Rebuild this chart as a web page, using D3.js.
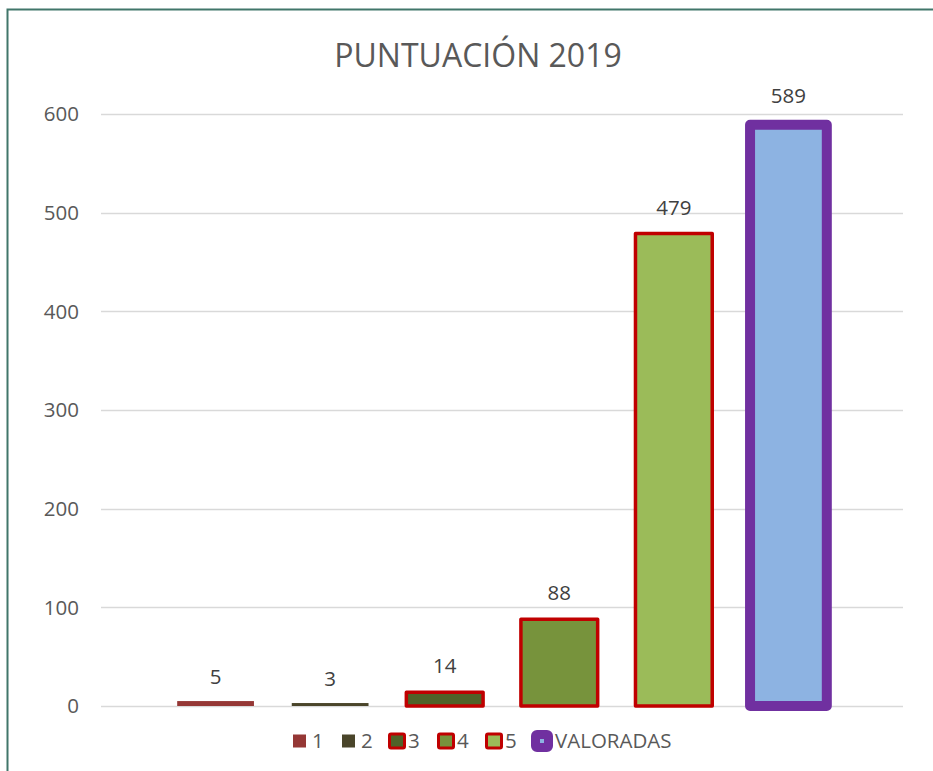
<!DOCTYPE html>
<meta charset="utf-8">
<style>
body { margin: 0; background: #fff; }
svg text { font-family: "Open Sans", "Noto Sans", sans-serif; }
</style>
<div id="chart"></div>
<script src="https://d3js.org/d3.v7.min.js"></script>
<script>

var categories = ["1", "2", "3", "4", "5", "VALORADAS"];
var values = [5, 3, 14, 88, 479, 589];
var fills = ["#953735", "#4a452a", "#4f6228", "#77933c", "#9bbb59", "#8db3e2"];
var strokes = [null, null, "#c00000", "#c00000", "#c00000", "#7030a0"];
var strokeWidths = [0, 0, 3.5, 3.5, 3.5, 10];
var yTicks = [0, 100, 200, 300, 400, 500, 600];

var width = 933, height = 771;

var svg = d3.select("#chart")
    .append("svg")
    .attr("width", width)
    .attr("height", height);

// frame of the chart area (only top and left visible)
svg.append("rect")
    .attr("x", 7.5).attr("y", 9.5)
    .attr("width", 1000).attr("height", 1000)
    .attr("fill", "#fff")
    .attr("stroke", "#41766a")
    .attr("stroke-width", 2);

var x = d3.scaleBand()
    .domain(categories)
    .range([101, 903])
    .paddingInner(0.33)
    .paddingOuter(0.665);

var y = d3.scaleLinear()
    .domain([0, 600])
    .range([706, 114]);

// gridlines
svg.append("g")
  .selectAll("line")
  .data(yTicks)
  .enter().append("line")
    .attr("x1", 101).attr("x2", 903)
    .attr("y1", function(d) { return Math.round(y(d)) + 0.5; })
    .attr("y2", function(d) { return Math.round(y(d)) + 0.5; })
    .attr("stroke", "#d9d9d9")
    .attr("stroke-width", 1.5);

// y axis labels
svg.append("g")
  .selectAll("text")
  .data(yTicks)
  .enter().append("text")
    .attr("x", 79)
    .attr("y", function(d) { return y(d); })
    .attr("dy", "0.36em")
    .attr("text-anchor", "end")
    .attr("font-size", 20.5)
    .attr("fill", "#595959")
    .text(function(d) { return d; });

// bars
svg.append("g")
  .selectAll("rect")
  .data(values)
  .enter().append("rect")
    .attr("x", function(d, i) { return x(categories[i]); })
    .attr("y", function(d) { return y(d); })
    .attr("width", x.bandwidth())
    .attr("height", function(d) { return y(0) - y(d); })
    .attr("fill", function(d, i) { return fills[i]; })
    .attr("stroke", function(d, i) { return strokes[i] || "none"; })
    .attr("stroke-width", function(d, i) { return strokeWidths[i]; })
    .attr("stroke-linejoin", "round");

// value labels
svg.append("g")
  .selectAll("text")
  .data(values)
  .enter().append("text")
    .attr("x", function(d, i) { return x(categories[i]) + x.bandwidth() / 2; })
    .attr("y", function(d, i) { return y(d) - strokeWidths[i] / 2 - 17; })
    .attr("text-anchor", "middle")
    .attr("font-size", 20.5)
    .attr("fill", "#404040")
    .text(function(d) { return d; });

// title
svg.append("text")
    .attr("x", 478)
    .attr("y", 67)
    .attr("text-anchor", "middle")
    .attr("font-size", 32)
    .attr("fill", "#595959")
    .text("PUNTUACIÓN 2019");

// legend
var legendX = [293, 342, 388, 437, 485, 531];
var legend = svg.append("g")
  .selectAll("g")
  .data(categories)
  .enter().append("g")
    .attr("transform", function(d, i) { return "translate(" + legendX[i] + ",741)"; });

legend.append("rect")
    .attr("x", function(d, i) { return i < 2 ? 0 : (i < 5 ? 1.5 : 4.5); })
    .attr("y", function(d, i) { return i < 2 ? -6.5 : (i < 5 ? -7 : -6.5); })
    .attr("width", function(d, i) { return i < 2 ? 13 : (i < 5 ? 15 : 13); })
    .attr("height", function(d, i) { return i < 2 ? 13 : (i < 5 ? 14 : 13); })
    .attr("rx", function(d, i) { return i < 2 ? 0 : 1.5; })
    .attr("fill", function(d, i) { return fills[i]; })
    .attr("stroke", function(d, i) { return strokes[i] || "none"; })
    .attr("stroke-width", function(d, i) { return i < 2 ? 0 : (i < 5 ? 3 : 9); });

legend.append("text")
    .attr("x", function(d, i) { return i < 2 ? 19 : (i < 5 ? 20 : 24); })
    .attr("dy", "0.36em")
    .attr("font-size", 20.5)
    .attr("fill", "#595959")
    .text(function(d) { return d; });

</script>
